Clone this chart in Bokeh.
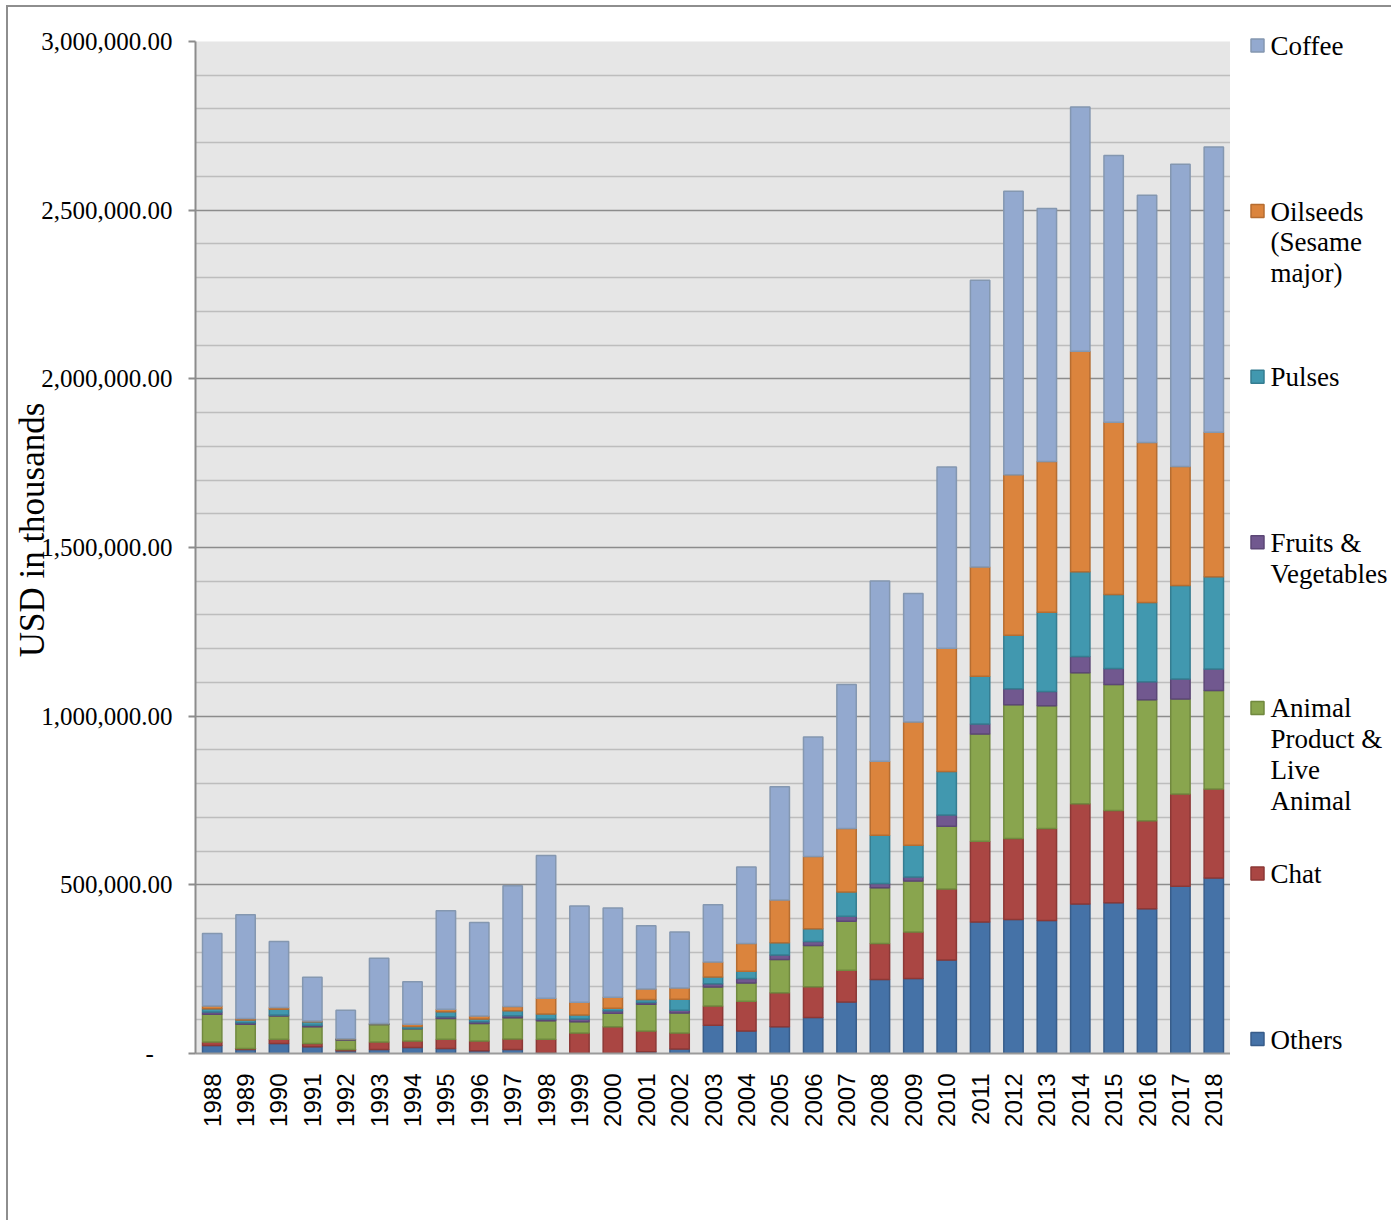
import math
from bokeh.plotting import figure
from bokeh.models import Range1d, FactorRange, FixedTicker, NumeralTickFormatter, ColumnDataSource
from bokeh.layouts import row
from bokeh.embed import file_html
from bokeh.resources import INLINE
from bokeh.core.properties import value

# ---------------- data (USD in thousands) ----------------
years = ["1988", "1989", "1990", "1991", "1992", "1993", "1994", "1995", "1996", "1997",
         "1998", "1999", "2000", "2001", "2002", "2003", "2004", "2005", "2006", "2007",
         "2008", "2009", "2010", "2011", "2012", "2013", "2014", "2015", "2016", "2017", "2018"]

others = [24000, 12000, 30000, 20000, 8000, 12000, 18000, 15000, 8000, 12000,
          2000, 1000, 1000, 5000, 13000, 84000, 67000, 79000, 107000, 153000,
          219000, 222000, 277000, 390000, 397000, 394000, 443000, 447000, 429000, 496000, 520000]
chat = [10000, 3000, 12000, 10000, 4000, 22000, 19000, 27000, 29000, 31000,
        40000, 60000, 78000, 62000, 48000, 57000, 88000, 101000, 91000, 94000,
        107000, 138000, 211000, 239000, 240000, 273000, 297000, 273000, 261000, 273000, 264000]
animal = [82000, 72000, 69000, 49000, 28000, 52000, 36000, 62000, 52000, 63000,
          55000, 33000, 40000, 79000, 59000, 56000, 54000, 99000, 122000, 145000,
          165000, 151000, 186000, 318000, 397000, 364000, 389000, 374000, 359000, 282000, 292000]
fruits = [7000, 4000, 3000, 5000, 2000, 1000, 1000, 5000, 5000, 6000,
          5000, 8000, 8000, 5000, 8000, 10000, 13000, 13000, 12000, 15000,
          13000, 12000, 33000, 30000, 47000, 42000, 48000, 47000, 53000, 59000, 64000]
pulses = [10000, 8000, 17000, 10000, 1000, 1000, 6000, 15000, 8000, 15000,
          15000, 12000, 7000, 9000, 33000, 20000, 22000, 36000, 38000, 72000,
          143000, 94000, 129000, 141000, 159000, 235000, 251000, 220000, 235000, 277000, 273000]
oilseeds = [8000, 5000, 5000, 2000, 1000, 1000, 7000, 7000, 9000, 12000,
            47000, 38000, 33000, 31000, 33000, 44000, 82000, 127000, 214000, 188000,
            219000, 366000, 365000, 324000, 476000, 447000, 654000, 510000, 474000, 353000, 429000]
coffee = [215000, 307000, 196000, 130000, 84000, 193000, 126000, 292000, 277000, 358000,
          423000, 285000, 264000, 188000, 166000, 170000, 227000, 336000, 354000, 427000,
          535000, 381000, 538000, 850000, 840000, 750000, 724000, 791000, 733000, 896000, 845000]

series_keys = ["others", "chat", "animal", "fruits", "pulses", "oilseeds", "coffee"]
series_labels = ["Others", "Chat", "Animal\nProduct &\nLive\nAnimal", "Fruits &\nVegetables",
                 "Pulses", "Oilseeds\n(Sesame\nmajor)", "Coffee"]
y_ticks = [0, 500000, 1000000, 1500000, 2000000, 2500000, 3000000]

# ---------------- styles ----------------
fills = ["#4572A7", "#AA4643", "#89A54E", "#71588F", "#4198AF", "#DB843D", "#93A9CF"]
lines = ["#385d8a", "#8c3836", "#71893f", "#5c4776", "#357d91", "#b66d31", "#8497b0"]

source = ColumnDataSource(dict(year=years, others=others, chat=chat, animal=animal,
                               fruits=fruits, pulses=pulses, oilseeds=oilseeds, coffee=coffee))

p = figure(x_range=FactorRange(*years), y_range=Range1d(0, 3000000),
           width=1222, height=1213, output_backend="svg", toolbar_location=None,
           min_border_left=187, min_border_right=0, min_border_top=34, min_border_bottom=167)

p.vbar_stack(series_keys, x="year", width=0.58, source=source,
             fill_color=fills, line_color=lines, line_width=1.5)

p.background_fill_color = "#e6e6e6"
p.border_fill_color = "white"
p.outline_line_color = None

p.xgrid.grid_line_color = None
minor = [k * 100000 for k in range(31) if k % 5 != 0]
p.yaxis.ticker = FixedTicker(ticks=y_ticks, minor_ticks=minor)
p.ygrid.grid_line_color = "#8c8c8c"
p.ygrid.grid_line_width = 1.5
p.ygrid.minor_grid_line_color = "#bdbdbd"
p.ygrid.minor_grid_line_width = 1.5

p.yaxis.formatter = NumeralTickFormatter(format="0,0.00")
p.yaxis.major_label_overrides = {0: "-\u00a0\u00a0\u00a0"}
p.yaxis.axis_line_color = "#8c8c8c"
p.yaxis.axis_line_width = 2
p.yaxis.major_tick_out = 7
p.yaxis.major_tick_in = 0
p.yaxis.major_tick_line_color = "#8c8c8c"
p.yaxis.major_tick_line_width = 2
p.yaxis.minor_tick_out = 0
p.yaxis.minor_tick_in = 0
p.yaxis.minor_tick_line_color = None
p.yaxis.major_label_standoff = 16
p.yaxis.major_label_text_font = "Liberation Serif"
p.yaxis.major_label_text_font_size = "25px"
p.yaxis.major_label_text_color = "black"
p.yaxis.axis_label = "\u00a0\u00a0\u00a0\u00a0USD in thousands"
p.yaxis.axis_label_text_font = "Liberation Serif"
p.yaxis.axis_label_text_font_size = "35px"
p.yaxis.axis_label_text_font_style = "normal"
p.yaxis.axis_label_text_color = "black"
p.yaxis.axis_label_standoff = -14

p.xaxis.major_label_orientation = math.pi / 2
p.xaxis.major_label_text_font = "Liberation Sans"
p.xaxis.major_label_text_font_size = "24px"
p.xaxis.major_label_text_color = "black"
p.xaxis.major_tick_out = 0
p.xaxis.major_tick_in = 0
p.xaxis.major_label_standoff = 20
p.xaxis.axis_line_color = "#9a9a9a"
p.xaxis.axis_line_width = 2

# ---------------- legend panel ----------------
leg = figure(x_range=Range1d(1230, 1391), y_range=Range1d(1220, 7),
             width=161, height=1213, output_backend="svg", toolbar_location=None,
             min_border=0, x_axis_location=None, y_axis_location=None)
try:
    leg.frame_align = False
    p.frame_align = False
except Exception:
    pass
leg.grid.visible = False
leg.outline_line_color = None
leg.background_fill_color = "white"
leg.border_fill_color = "white"

order = list(range(len(series_keys)))[::-1]  # Coffee at top ... Others at bottom
mx, my, mf, ml = [], [], [], []
tx, ty, tt = [], [], []
for slot, idx in enumerate(order):
    cy = 45 + slot * 165.6
    mx.append(1257)
    my.append(cy)
    mf.append(fills[idx])
    ml.append(lines[idx])
    for j, line in enumerate(series_labels[idx].split("\n")):
        tx.append(1270)
        ty.append(cy + 0.5 + j * 30.7)
        tt.append(line)

leg.rect(x=mx, y=my, width=13, height=13, fill_color=mf, line_color=ml, line_width=1.5)
leg.text(x=tx, y=ty, text=tt, text_font=value("Liberation Serif"), text_font_size="27px",
         text_baseline="alphabetic", text_align="left", text_color="black")

layout = row(p, leg)
layout.styles = {"margin-top": "5px", "margin-left": "6px",
                 "border-top": "2px solid #8e8e8e", "border-left": "2px solid #8e8e8e"}

open("out.html", "w").write(file_html(layout, INLINE))
